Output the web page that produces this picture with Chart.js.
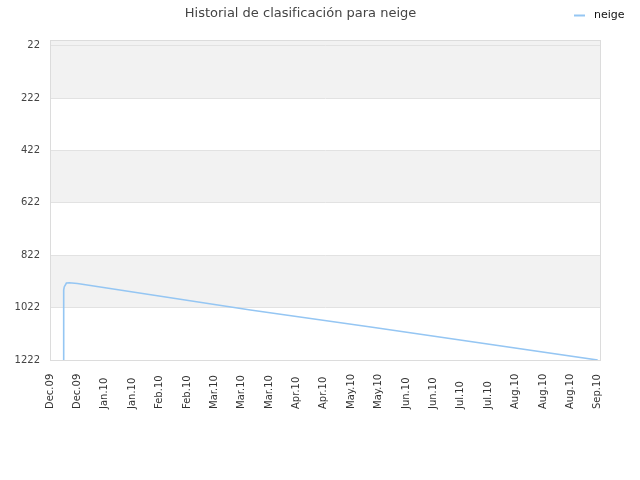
<!DOCTYPE html>
<html lang="es">
  <head>
    <meta charset="UTF-8" />
    <title>Historial de clasificación para neige</title>
    <script src="https://cdn.jsdelivr.net/npm/chart.js"></script>
    <style>
      html, body { margin: 0; padding: 0; background: #fff; }
      #wrap { width: 640px; height: 480px; position: relative; }
    </style>
  </head>
  <body>
    <div id="wrap"><canvas id="rank-chart"></canvas></div>
    <script>
      // etiquetas del eje x (una cada ~2 semanas)
      const tickLabels = [
        "Dec.09", "Dec.09", "Jan.10", "Jan.10", "Feb.10", "Feb.10", "Mar.10",
        "Mar.10", "Mar.10", "Apr.10", "Apr.10", "May.10", "May.10", "Jun.10",
        "Jun.10", "Jul.10", "Jul.10", "Aug.10", "Aug.10", "Aug.10", "Sep.10",
      ];
      // posición en el eje x (en unidades de etiqueta) y puesto
      const xPos = [0.5, 0.5, 0.5, 0.5, 0.5, 0.52, 0.6, 0.7, 1.0, 7.32, 11.71, 20.0];
      const ranks = [1222, 1060, 1005, 980, 955, 943, 928, 927, 930, 1031, 1096, 1222];
      const yTicks = [22, 222, 422, 622, 822, 1022, 1222];

      const lineColor = "#95c6f3";

      const bandsPlugin = {
        id: "bands",
        beforeDraw(chart) {
          const { ctx, chartArea: a, scales } = chart;
          const y = scales.y;
          ctx.save();
          const edges = [y.min].concat(yTicks.slice(1));
          for (let i = 0; i < edges.length - 1; i++) {
            ctx.fillStyle = i % 2 === 0 ? "#f2f2f2" : "#ffffff";
            const y0 = y.getPixelForValue(edges[i]);
            const y1 = y.getPixelForValue(edges[i + 1]);
            ctx.fillRect(a.left, y0, a.right - a.left, y1 - y0);
          }
          ctx.restore();
        },
        afterDraw(chart) {
          const { ctx, chartArea: a, scales } = chart;
          ctx.save();
          // borde del área
          ctx.strokeStyle = "#dcdcdc";
          ctx.lineWidth = 1;
          ctx.strokeRect(a.left + 0.5, a.top + 0.5, a.right - a.left - 1, a.bottom - a.top);

          // etiquetas x, giradas y alineadas abajo
          ctx.font = "10px 'DejaVu Sans'";
          ctx.fillStyle = "#333";
          ctx.textAlign = "left";
          ctx.textBaseline = "middle";
          tickLabels.forEach((lab, i) => {
            const px = scales.x.getPixelForValue(i);
            ctx.save();
            ctx.translate(px, 409);
            ctx.rotate(-Math.PI / 2);
            ctx.fillText(lab, 0, 0);
            ctx.restore();
          });

          // leyenda
          const ds = chart.data.datasets[0];
          ctx.strokeStyle = ds.borderColor;
          ctx.lineWidth = 2;
          ctx.beginPath();
          ctx.moveTo(574, 15.5);
          ctx.lineTo(585, 15.5);
          ctx.stroke();
          ctx.font = "11px 'DejaVu Sans'";
          ctx.fillStyle = "#111";
          ctx.fillText(ds.label, 594, 15);
          ctx.restore();
        },
      };

      const ctx = document.getElementById("rank-chart").getContext("2d");
      const chart = new Chart(ctx, {
        type: "line",
        data: {
          datasets: [
            {
              label: "neige",
              data: xPos.map((x, i) => ({ x: x, y: ranks[i] })),
              borderColor: lineColor,
              borderWidth: 1.6,
              pointRadius: 0,
              tension: 0,
              fill: false,
            },
          ],
        },
        options: {
          responsive: true,
          maintainAspectRatio: false,
          animation: false,
          layout: { padding: { left: 0, right: 39, top: 0, bottom: 0 } },
          scales: {
            x: {
              type: "linear",
              min: 0,
              max: 20.12,
              afterBuildTicks: (s) => {
                s.ticks = tickLabels.map((_, i) => ({ value: i }));
              },
              afterFit: (s) => {
                s.height = 120;
              },
              grid: { display: false },
              border: { display: false },
              ticks: { display: false },
            },
            y: {
              type: "linear",
              reverse: true,
              min: 0,
              max: 1222,
              afterBuildTicks: (s) => {
                s.ticks = yTicks.map((v) => ({ value: v }));
              },
              afterFit: (s) => {
                s.width = 50;
              },
              grid: { color: "#e2e2e2", drawTicks: false },
              border: { display: false },
              ticks: {
                padding: 10,
                color: "#444",
                font: { family: "DejaVu Sans", size: 10 },
                callback: (v) => String(v),
              },
            },
          },
          plugins: {
            legend: { display: false },
            tooltip: { enabled: false },
            title: {
              display: true,
              text: "Historial de clasificación para neige",
              color: "#444",
              font: { family: "DejaVu Sans", size: 13, weight: "normal" },
              padding: { top: 6, bottom: 18.4 },
            },
          },
        },
        plugins: [bandsPlugin],
      });
    </script>
  </body>
</html>
